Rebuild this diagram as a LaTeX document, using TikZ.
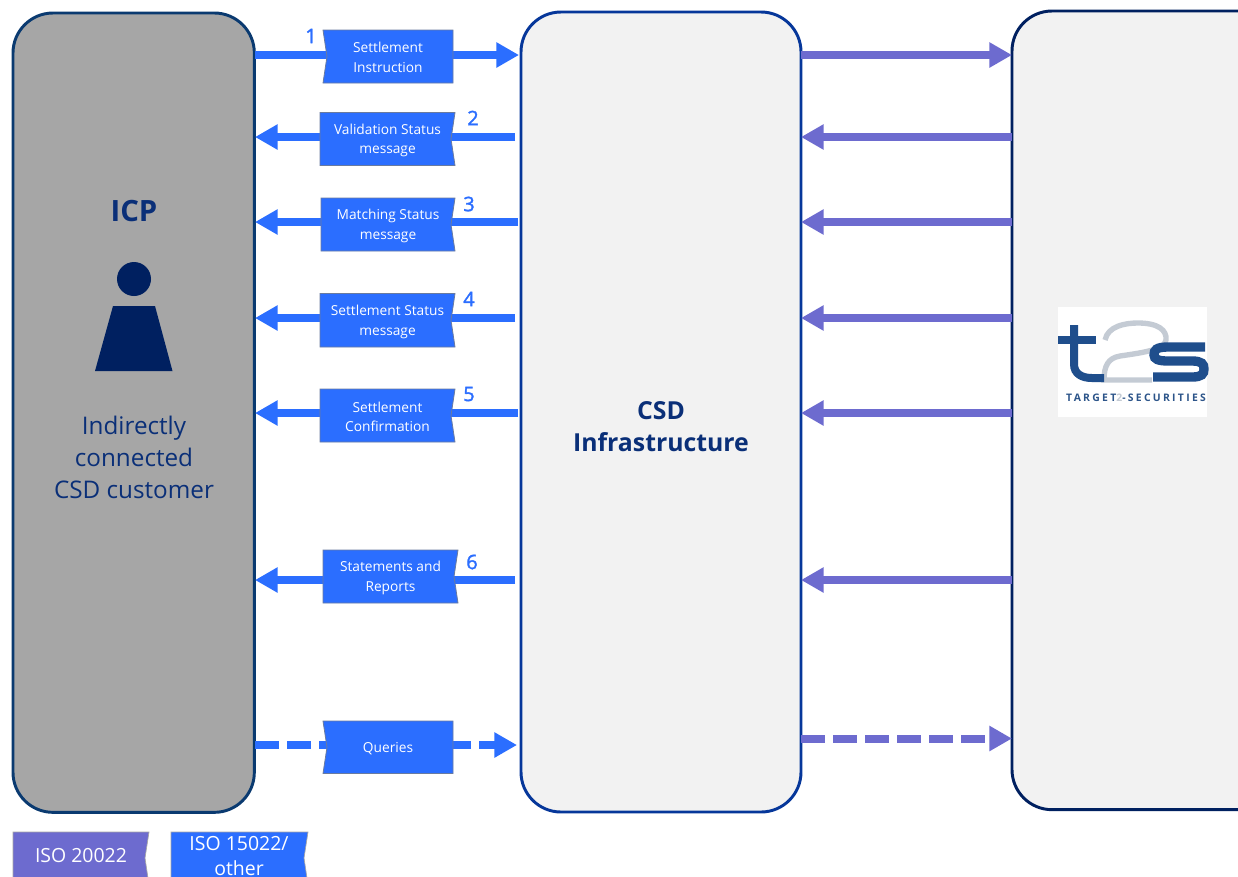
\documentclass[tikz,border=0pt]{standalone}
\usepackage{fontspec}
\setmainfont{Open Sans}
\newfontfamily\heavyfont[FakeBold=1.6]{Open Sans}
\newfontfamily\logofont[LetterSpace=22]{Open Sans}
\usetikzlibrary{arrows.meta}
\definecolor{msgblue}{HTML}{2B6EFF}
\definecolor{msgpurple}{HTML}{6D6BCF}
\definecolor{navy}{HTML}{002060}
\definecolor{icpedge}{HTML}{0A3A70}
\definecolor{csdedge}{HTML}{06379A}
\definecolor{titlenavy}{HTML}{0A2F78}
\definecolor{logoblue}{HTML}{1F4E8C}
\definecolor{logogray}{HTML}{C4CBD4}
\tikzset{
  x=0.75pt,y=-0.75pt,
  panel/.style={draw,line width=2.2pt,rounded corners=30pt,outer sep=0pt,anchor=north west},
  flow/.style={line width=6pt,-{Triangle[length=17pt,width=18pt]}},
  flowb/.style={flow,draw=msgblue},
  flowp/.style={flow,draw=msgpurple},
  dashb/.style={flowb,dash pattern=on 18pt off 6pt},
  dashp/.style={flowp,dash pattern=on 18pt off 6pt},
  boxtext/.style={text=white,font=\fontsize{10.3pt}{14.6pt}\selectfont,align=center,inner sep=0pt},
  legtext/.style={text=white,font=\fontsize{14.6pt}{19pt}\selectfont,align=center,inner sep=0pt},
  stepno/.style={text=msgblue,font=\heavyfont\fontsize{15pt}{18pt}\selectfont,inner sep=0pt},
  boxline/.style={fill=msgblue,draw=gray!75!msgblue,line width=0.6pt},
  legline/.style={draw=gray!70,line width=0.5pt},
  title/.style={text=titlenavy,align=center,inner sep=0pt},
  logostroke/.style={draw=logoblue,line width=6pt},
}
% left-notched box: name x0 y0 x1 y1 text
\newcommand{\lbox}[6]{%
  \path[boxline] (#2,#3) -- (#2+4,{(#3+#5)/2}) -- (#2,#5) -- (#4,#5) -- (#4,#3) -- cycle;
  \node[boxtext] (#1) at ({(#2+#4)/2},{(#3+#5)/2+1}) {#6};}
% right-notched box
\newcommand{\rbox}[6]{%
  \path[boxline] (#2,#3) -- (#2,#5) -- (#4,#5) -- (#4-4,{(#3+#5)/2}) -- (#4,#3) -- cycle;
  \node[boxtext] (#1) at ({(#2+#4)/2},{(#3+#5)/2+1.5}) {#6};}
\begin{document}
\begin{tikzpicture}
\useasboundingbox (0,0) rectangle (1238,876);
\clip (0,0) rectangle (1238,876);
\fill[white] (0,0) rectangle (1238,876);
% panels
\node[panel,draw=icpedge,fill=black!35,minimum width=181pt,minimum height=599.5pt] (icp) at (13,13) {};
\node[panel,draw=csdedge,fill=black!5,minimum width=210pt,minimum height=600pt] (csd) at (521,12) {};
\node[panel,draw=navy,fill=black!5,minimum width=215pt,minimum height=599pt] (t2s) at (1012,11) {};
% panel texts
\node[title,font=\bfseries\fontsize{22pt}{24pt}\selectfont] (icptitle) at (134,211) {ICP};
\node[title,font=\fontsize{18.2pt}{24pt}\selectfont] (icptext) at (134,457) {Indirectly\\connected\\CSD customer};
\node[title,font=\bfseries\fontsize{18.6pt}{24pt}\selectfont] (csdtext) at (661,427) {CSD\\Infrastructure};
% person
\node[circle,fill=navy,minimum size=25.5pt,inner sep=0pt] (head) at (134,279) {};
\path[fill=navy] (113,306) -- (155,306) -- (172.5,371) -- (95,371) -- cycle;
% endpoint coordinates
\coordinate (a1) at (255,55);   \coordinate (b1) at (519,55);
\coordinate (a2) at (515,137);  \coordinate (b2) at (255,137);
\coordinate (a3) at (518,222);  \coordinate (b3) at (255,222);
\coordinate (a4) at (515,318);  \coordinate (b4) at (255,318);
\coordinate (a5) at (518,413);  \coordinate (b5) at (255,413);
\coordinate (a6) at (515,580);  \coordinate (b6) at (255,580);
\coordinate (a7) at (255,745);  \coordinate (b7) at (517,745);
% blue flows
\draw[flowb] (a1) -- (b1);
\draw[flowb] (a2) -- (b2);
\draw[flowb] (a3) -- (b3);
\draw[flowb] (a4) -- (b4);
\draw[flowb] (a5) -- (b5);
\draw[flowb] (a6) -- (b6);
\draw[dashb] (a7) -- (b7);
% purple flows
\draw[flowp] (csd.east |- a1) -- (t2s.west |- a1);
\draw[flowp] (t2s.west |- a2) -- (csd.east |- a2);
\draw[flowp] (t2s.west |- a3) -- (csd.east |- a3);
\draw[flowp] (t2s.west |- a4) -- (csd.east |- a4);
\draw[flowp] (t2s.west |- a5) -- (csd.east |- a5);
\draw[flowp] (t2s.west |- a6) -- (csd.east |- a6);
\coordinate (q) at (0,738.5);
\draw[dashp] (csd.east |- q) -- (t2s.west |- q);
% message boxes
\lbox{m1}{323}{30}{453}{83}{Settlement\\Instruction}
\rbox{m2}{320}{112.5}{455}{165.5}{Validation Status\\message}
\rbox{m3}{321}{198}{455}{251}{Matching Status\\message}
\rbox{m4}{320}{293.5}{455}{347}{Settlement Status\\message}
\rbox{m5}{320}{389}{455}{442}{Settlement\\Confirmation}
\rbox{m6}{323}{550}{458}{603}{Statements and\\Reports}
\lbox{m7}{323}{721}{453}{773.5}{Queries}
% numbers
\node[stepno] (n1) at (311,36) {1};
\node[stepno] (n2) at (473,118) {2};
\node[stepno] (n3) at (469,204) {3};
\node[stepno] (n4) at (469,299) {4};
\node[stepno] (n5) at (469,394) {5};
\node[stepno] (n6) at (472,562) {6};
% logo
\fill[white] (1058,307) rectangle (1207,417);
\draw[draw=logogray,line width=4pt] (1105,340) .. controls (1108,326) and (1125,323) .. (1138,323)
  .. controls (1158,323) and (1167,330) .. (1166,340) .. controls (1165,350) and (1140,353) .. (1120,356)
  .. controls (1108,358) and (1104,366) .. (1104,380) -- (1152,380);
\draw[logostroke] (1074,325) -- (1074,364) .. controls (1074,374) and (1082,378) .. (1092,378) -- (1104,378);
\draw[logostroke] (1058,340) -- (1096,340);
\draw[logostroke,line width=7pt] (1205,347) -- (1168,347) .. controls (1156,347) and (1154,350) .. (1154,355)
  .. controls (1154,359) and (1158,361) .. (1168,361) -- (1192,361)
  .. controls (1202,361) and (1204,364) .. (1204,369) .. controls (1204,374) and (1202,377) .. (1192,377) -- (1153,377);
\node[inner sep=0pt,text=logoblue!85!gray,font=\logofont\bfseries\fontsize{7.8pt}{8pt}\selectfont] (logotext) at (1136,398) {TARGET\textcolor{logogray}{2}-SECURITIES};
% legend
\path[fill=msgpurple,legline] (13,832) -- (149,832) -- (145,858) -- (149,885) -- (13,885) -- cycle;
\node[legtext] (leg1) at (81,856) {ISO 20022};
\path[fill=msgblue,legline] (171,832) -- (308,832) -- (304,858) -- (308,885) -- (171,885) -- cycle;
\node[legtext] (leg2) at (239,856) {ISO 15022/\\other};
\end{tikzpicture}
\end{document}
